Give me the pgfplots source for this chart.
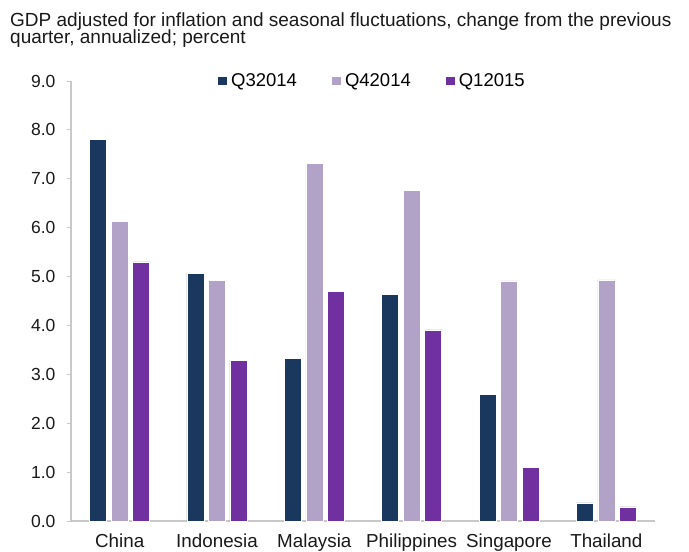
\documentclass[border=0pt]{standalone}
\usepackage{pgfplots}
\pgfplotsset{compat=1.18}
\usepackage{fontspec}
\setmainfont{Liberation Sans}
\definecolor{cQ3}{HTML}{1A375E}
\definecolor{cQ4}{HTML}{B3A2C8}
\definecolor{cQ1}{HTML}{7030A0}
\definecolor{axgray}{HTML}{C8C8C8}
\begin{document}
\begin{tikzpicture}
\useasboundingbox (-71bp,-31bp) rectangle (618bp,521bp);
\begin{axis}[
  scale only axis, width=584bp, height=440bp,
  xmin=-0.5, xmax=5.5, ymin=0, ymax=9,
  xtick=data, xticklabels={China,Indonesia,Malaysia,Philippines,Singapore,Thailand},
  ytick={0,1,...,9},
  /pgf/number format/fixed, /pgf/number format/fixed zerofill, /pgf/number format/precision=1, /pgf/number format/assume math mode=true,
  yticklabel style={font=\fontsize{17.5bp}{20bp}\selectfont, text=black!90, xshift=-8bp},
  xticklabel style={font=\fontsize{18.8bp}{20bp}\selectfont, text=black!90, yshift=-5bp},
  axis x line*=bottom, axis y line*=left,
  axis line style={axgray, line width=1.6bp},
  x axis line style={-}, y axis line style={-},
  major tick length=4bp,
  xtick style={draw=none},
  ytick style={axgray, line width=1bp},
  tick align=outside,
  ybar, bar width=17bp,
  legend style={at={(0.2517,1)}, anchor=west, draw=none, inner sep=0pt, legend columns=3,
    font=\fontsize{18.5bp}{20bp}\selectfont,
    nodes={inner sep=0bp},
    /tikz/every odd column/.append style={column sep=4bp},
    /tikz/every even column/.append style={column sep=35bp}},
  legend image code/.code={\fill[#1,draw=none] (0bp,-4.2bp) rectangle (9bp,4.2bp);},
  clip=false,
]
\addplot[fill=cQ3, draw=white, line width=0.6bp, bar shift=-21.5bp] coordinates {(0,7.81) (1,5.07) (2,3.33) (3,4.64) (4,2.59) (5,0.37)};
\addplot[fill=cQ4, draw=white, line width=0.6bp, bar shift=0bp] coordinates {(0,6.13) (1,4.92) (2,7.31) (3,6.77) (4,4.91) (5,4.93)};
\addplot[fill=cQ1, draw=white, line width=0.6bp, bar shift=21.5bp] coordinates {(0,5.30) (1,3.29) (2,4.70) (3,3.91) (4,1.10) (5,0.29)};
\legend{Q32014,Q42014,Q12015}
\end{axis}
\node[anchor=base west, inner sep=0pt, font=\fontsize{19bp}{22bp}\selectfont, text=black!90] at (-61bp,494bp) {GDP adjusted for inflation and seasonal fluctuations, change from the previous};
\node[anchor=base west, inner sep=0pt, font=\fontsize{19bp}{22bp}\selectfont, text=black!90] at (-61bp,477bp) {quarter, annualized; percent};
\end{tikzpicture}
\end{document}
